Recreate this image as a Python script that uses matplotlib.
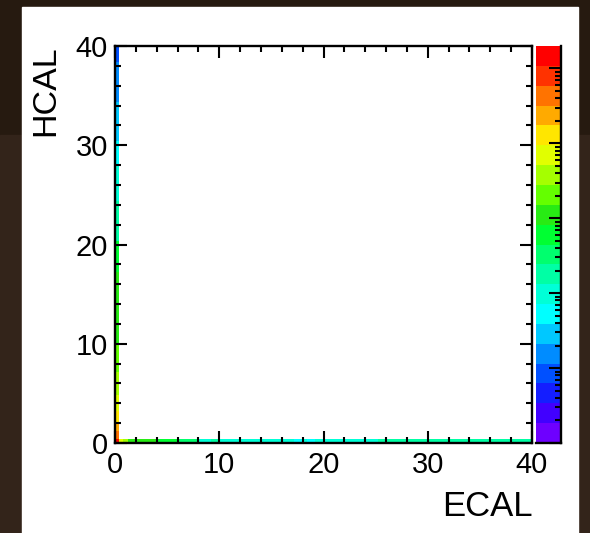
import numpy as np
import matplotlib
matplotlib.use('Agg')
import matplotlib.pyplot as plt
from matplotlib.colors import ListedColormap, LogNorm
from matplotlib.patches import Rectangle
from matplotlib import ticker

plt.rcParams['font.family'] = ['Liberation Sans', 'DejaVu Sans']

# 100 bins of 0.4 on both axes (0..40)
bin_edges = np.linspace(0, 40, 101)

# counts in the HCAL=0 row, one per ECAL bin
ecal_row = ([150000, 7000, 3800] + [1100] * 7 + [610] * 5 + [330] * 5
            + [97] * 3 + [180] * 2 + [97] * 18 + [53, 53, 97, 53, 53]
            + [97] * 15 + [180] * 37)

# counts in the ECAL=0 column, one per HCAL bin
hcal_col = ([150000] + [44000] * 2 + [24000] * 2 + [13000] * 3 + [7000] * 4
            + [3800] * 6 + [2100] * 7 + [1100] * 18 + [610] * 8 + [180] * 10
            + [97] * 9 + [53] * 6 + [29] * 10 + [16] * 10 + [8.5] * 4)

# old ROOT rainbow palette, 20 contour levels, bottom -> top
PALETTE = [(110, 0, 255), (65, 0, 255), (20, 30, 255), (0, 80, 255),
           (0, 140, 255), (0, 200, 255), (0, 255, 255), (0, 255, 215),
           (0, 255, 165), (0, 255, 110), (0, 255, 50), (40, 235, 20),
           (100, 255, 0), (165, 255, 0), (225, 255, 0), (255, 230, 0),
           (255, 170, 0), (255, 115, 0), (255, 50, 0), (255, 0, 0)]
cmap = ListedColormap([(r / 255, g / 255, b / 255) for r, g, b in PALETTE])
norm = LogNorm(vmin=1, vmax=10 ** 5.3)

W, H = 590, 533
fig = plt.figure(figsize=(W / 100, H / 100), dpi=100)
fig.patch.set_facecolor('#261a10')
fig.add_artist(Rectangle((0, 0), 1, 1 - 135 / H, transform=fig.transFigure,
                         color='#33241a', zorder=-2))
fig.add_artist(Rectangle((22 / W, 0), 556 / W, 1 - 7 / H, transform=fig.transFigure,
                         color='white', zorder=-1))

ax = fig.add_axes([115 / W, 90 / H, 417 / W, 397 / H])
cax = fig.add_axes([536 / W, 90 / H, 25 / W, 397 / H])

Z = np.zeros((100, 100))
Z[0, :] = ecal_row
Z[:, 0] = hcal_col
mesh = ax.pcolormesh(bin_edges, bin_edges, np.ma.masked_equal(Z, 0),
                     cmap=cmap, norm=norm)

ax.set_xlim(0, 40)
ax.set_ylim(0, 40)
ax.set_xticks([0, 10, 20, 30, 40])
ax.set_yticks([0, 10, 20, 30, 40])
ax.xaxis.set_minor_locator(ticker.MultipleLocator(2))
ax.yaxis.set_minor_locator(ticker.MultipleLocator(2))
ax.tick_params(which='both', direction='in', top=True, right=True,
               width=1.5, labelsize=21, color='black')
ax.tick_params(which='major', length=8.6)
ax.tick_params(which='minor', length=4.3)
ax.tick_params(axis='x', pad=6)
ax.tick_params(axis='y', pad=5)
for s in ax.spines.values():
    s.set_linewidth(1.7)

cb = fig.colorbar(mesh, cax=cax)
cb.outline.set_visible(False)
cax.yaxis.set_major_locator(ticker.LogLocator(base=10))
cax.yaxis.set_minor_locator(ticker.LogLocator(base=10, subs=range(2, 10)))
cax.yaxis.set_major_formatter(ticker.NullFormatter())
cax.yaxis.set_minor_formatter(ticker.NullFormatter())
cax.tick_params(which='both', direction='in', right=True, left=False,
                labelright=False, labelleft=False, width=1.5)
cax.tick_params(which='major', length=8.6)
cax.tick_params(which='minor', length=4)
cax.axvline(1, color='black', lw=1.7, clip_on=False)
cax.axhline(cax.get_ylim()[0], color='black', lw=1.7, clip_on=False)

fig.text(46 / W, 1 - 45 / H, 'HCAL', rotation=90, ha='center', va='top', fontsize=24.5)
fig.text(533 / W, 1 - 507 / H, 'ECAL', ha='right', va='center', fontsize=25)

fig.savefig('out.png', dpi=100, facecolor=fig.get_facecolor())
